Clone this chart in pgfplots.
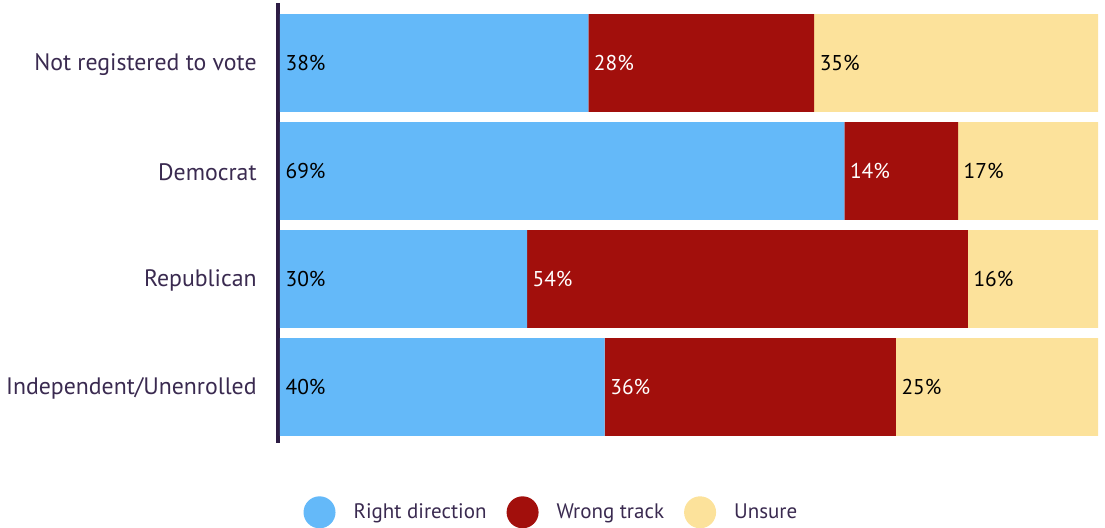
\documentclass[border=0pt]{standalone}
\usepackage{pgfplots}
\pgfplotsset{compat=1.18}
\usepackage{pgfplotstable}
\usepackage{fontspec}
\setmainfont{PT Sans}
\definecolor{cblue}{RGB}{100,185,249}
\definecolor{cred}{RGB}{162,15,12}
\definecolor{cyel}{RGB}{252,226,155}
\definecolor{cdark}{RGB}{58,42,80}
\definecolor{caxis}{RGB}{45,28,68}

% y: 0 = Independent/Unenrolled ... 3 = Not registered to vote
\pgfplotstableread{
y right wrong unsure
0 39.7 35.6 24.7
1 30.2 53.9 15.9
2 69.0 13.9 17.1
3 37.7 27.6 34.7
}\bars
\pgfplotstableread{
y xb lb xr lr xu lu
0 0    40\% 39.7 36\% 75.3 25\%
1 0    30\% 30.2 54\% 84.1 16\%
2 0    69\% 69.0 14\% 82.9 17\%
3 0    38\% 37.7 28\% 65.3 35\%
}\labels

\begin{document}
\begin{tikzpicture}[x=1pt,y=1pt]
\useasboundingbox (0,0) rectangle (552.5,264);
\pgfplotsset{
  common/.style={
    at={(140pt,41.5pt)}, anchor=south west,
    scale only axis, width=409pt, height=220pt,
    xmin=0, xmax=100, ymin=-0.537, ymax=3.537,
    axis line style={draw=none},
    xtick=\empty,
    ytick={0,1,2,3},
    major tick length=0pt,
    clip=false,
  },
}
\begin{axis}[common,
  xbar stacked, bar width=0.907, bar shift=0pt,
  yticklabels={Independent/Unenrolled,Republican,Democrat,Not registered to vote},
  yticklabel style={anchor=east, inner sep=0pt, xshift=-11.5pt, yshift=-0.8pt, font=\fontsize{11.9}{13}\selectfont, text=cdark},
  legend columns=3,
  legend style={at={(0.333,-0.153)}, anchor=center, draw=none, fill=none,
    font=\fontsize{10.5}{12}\selectfont, text=cdark,
    /tikz/every odd column/.append style={column sep=7pt},
    /tikz/every even column/.append style={column sep=8pt}},
]
\addplot[fill=cblue, draw=none, legend image code/.code={\fill[cblue] (8pt,0pt) circle (8pt);}] table[x=right,y=y] {\bars};
\addlegendentry{Right direction}
\addplot[fill=cred, draw=none, legend image code/.code={\fill[cred] (8pt,0pt) circle (8pt);}] table[x=wrong,y=y] {\bars};
\addlegendentry{Wrong track}
\addplot[fill=cyel, draw=none, legend image code/.code={\fill[cyel] (8pt,0pt) circle (8pt);}] table[x=unsure,y=y] {\bars};
\addlegendentry{Unsure}
\draw[caxis, line width=2pt] ([xshift=-1pt]axis description cs:0,0.005) -- ([xshift=-1pt]axis description cs:0,1.005);
\end{axis}
\begin{axis}[common, yticklabels={},
  nodes near coords style={anchor=west, inner sep=0pt, xshift=2.6pt, font=\fontsize{10.7}{12}\selectfont},
]
\addplot[draw=none, mark=none, nodes near coords, point meta=explicit symbolic, nodes near coords style={text=black}] table[x=xb,y=y,meta=lb] {\labels};
\addplot[draw=none, mark=none, nodes near coords, point meta=explicit symbolic, nodes near coords style={text=white}] table[x=xr,y=y,meta=lr] {\labels};
\addplot[draw=none, mark=none, nodes near coords, point meta=explicit symbolic, nodes near coords style={text=black}] table[x=xu,y=y,meta=lu] {\labels};
\end{axis}
\end{tikzpicture}
\end{document}
